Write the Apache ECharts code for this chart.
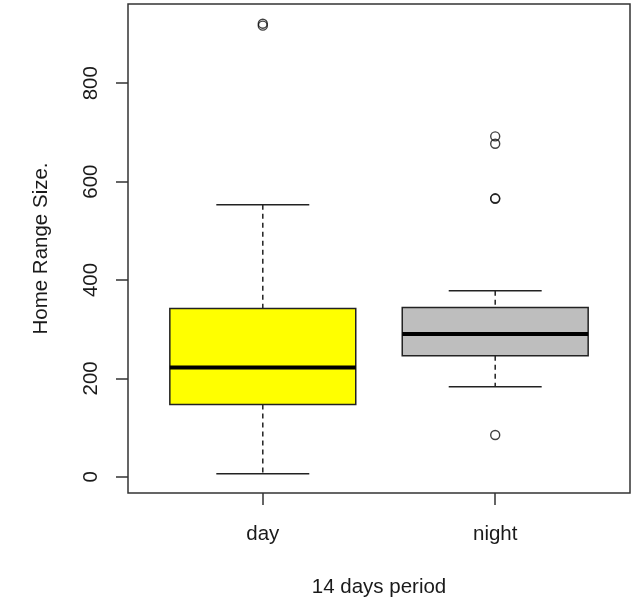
<!DOCTYPE html>
<html>
<head>
<meta charset="utf-8">
<script src="https://cdn.jsdelivr.net/npm/echarts@6/dist/echarts.min.js"></script>
<style>
html,body{margin:0;padding:0;background:#fff;}
#chart{width:639px;height:601px;}
</style>
</head>
<body>
<div id="chart"></div>
<script>
// ---- data ----
const categories = ['day', 'night'];
const categoryPositions = [1, 2];
const lowWhisker = [6, 183];
const q1 = [147, 246];
const median = [222, 290];
const q3 = [342, 344];
const highWhisker = [553, 378];
const dayOutliers = [917, 921];
const nightOutliers = [85, 565, 566, 677, 692];
const yTicks = [0, 200, 400, 600, 800];
const xTitle = '14 days period';
const yTitle = 'Home Range Size.';

// ---- styles ----
const boxFill = ['#FFFF00', '#BEBEBE'];
const ink = '#222';
const font = '"Liberation Sans", Arial, sans-serif';

const boxData = categories.map((c, i) => [categoryPositions[i], lowWhisker[i], q1[i], median[i], q3[i], highWhisker[i]]);
const outlierData = [];
dayOutliers.forEach(v => outlierData.push([categoryPositions[0], v]));
nightOutliers.forEach(v => outlierData.push([categoryPositions[1], v]));

const chart = echarts.init(document.getElementById('chart'), null, {renderer: 'canvas'});

function renderBox(params, api) {
  const x = api.value(0);
  const lo = api.coord([x, api.value(1)]);
  const b1 = api.coord([x, api.value(2)]);
  const md = api.coord([x, api.value(3)]);
  const b3 = api.coord([x, api.value(4)]);
  const hi = api.coord([x, api.value(5)]);
  const left = api.coord([x - 0.4, 0])[0];
  const right = api.coord([x + 0.4, 0])[0];
  const capL = api.coord([x - 0.2, 0])[0];
  const capR = api.coord([x + 0.2, 0])[0];
  const cx = lo[0];
  const idx = params.dataIndex;
  const lineStyle = {stroke: ink, lineWidth: 1.5};
  const dashStyle = {stroke: ink, lineWidth: 1.5, lineDash: [5, 4]};
  return {
    type: 'group',
    children: [
      {type: 'line', shape: {x1: cx, y1: hi[1], x2: cx, y2: b3[1]}, style: dashStyle},
      {type: 'line', shape: {x1: cx, y1: b1[1], x2: cx, y2: lo[1]}, style: dashStyle},
      {type: 'line', shape: {x1: capL, y1: hi[1], x2: capR, y2: hi[1]}, style: lineStyle},
      {type: 'line', shape: {x1: capL, y1: lo[1], x2: capR, y2: lo[1]}, style: lineStyle},
      {type: 'rect', shape: {x: left, y: b3[1], width: right - left, height: b1[1] - b3[1]},
        style: {fill: boxFill[idx], stroke: ink, lineWidth: 1.5}},
      {type: 'line', shape: {x1: left, y1: md[1], x2: right, y2: md[1]}, style: {stroke: '#000', lineWidth: 4}}
    ]
  };
}

chart.setOption({
  animation: false,
  backgroundColor: '#fff',
  grid: {left: 128, right: 9, top: 4, bottom: 108, show: true, borderColor: '#333', borderWidth: 1.5,
    backgroundColor: 'transparent', containLabel: false, outerBoundsMode: 'none'},
  xAxis: {
    type: 'value', min: 0.42, max: 2.58,
    axisLine: {show: false, onZero: false},
    splitLine: {show: false},
    axisTick: {show: true, length: 12, lineStyle: {color: '#333', width: 1.5}, customValues: categoryPositions},
    axisLabel: {
      customValues: categoryPositions,
      formatter: v => categories[categoryPositions.indexOf(Math.round(v))] || '',
      color: '#1a1a1a', fontSize: 20.5, fontFamily: font, margin: 31
    },
    name: xTitle, nameLocation: 'middle', nameGap: 84,
    nameTextStyle: {color: '#1a1a1a', fontSize: 20.5, fontFamily: font, verticalAlign: 'top'}
  },
  yAxis: {
    type: 'value', min: -33, max: 961,
    axisLine: {show: false, onZero: false},
    splitLine: {show: false},
    axisTick: {show: true, length: 12, lineStyle: {color: '#333', width: 1.5}, customValues: yTicks},
    axisLabel: {
      customValues: yTicks, rotate: 90,
      color: '#1a1a1a', fontSize: 20.5, fontFamily: font, margin: 26
    },
    name: yTitle, nameLocation: 'middle', nameGap: 76, nameRotate: 90,
    nameTextStyle: {color: '#1a1a1a', fontSize: 20.5, fontFamily: font}
  },
  series: [
    {
      type: 'custom',
      renderItem: renderBox,
      encode: {x: 0, y: [1, 2, 3, 4, 5]},
      data: boxData,
      z: 2
    },
    {
      type: 'scatter',
      data: outlierData,
      symbol: 'circle',
      symbolSize: 9,
      itemStyle: {color: 'transparent', borderColor: '#111', borderWidth: 1.4},
      z: 3
    }
  ]
});
</script>
</body>
</html>
